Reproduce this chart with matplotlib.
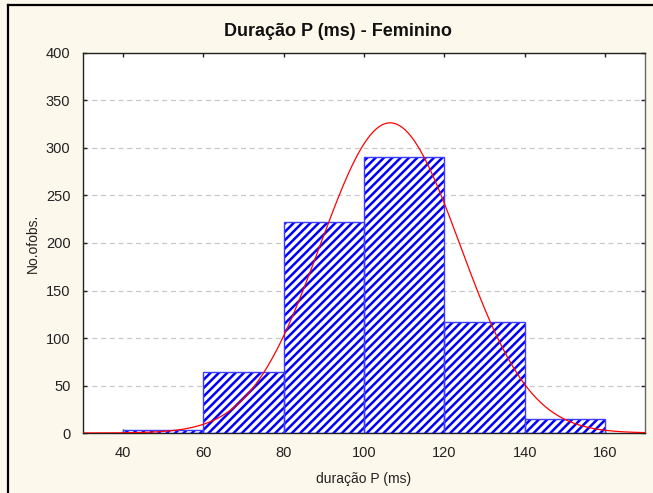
"""
Histogram of P-wave duration (female) with fitted normal curve.
"""

import numpy as np
import matplotlib
matplotlib.use("Agg")
import matplotlib.pyplot as plt
from matplotlib.lines import Line2D

plt.rcParams['font.family'] = ['Liberation Sans', 'DejaVu Sans']
plt.rcParams['hatch.linewidth'] = 1.8

# data
bin_edges = [40, 60, 80, 100, 120, 140, 160]
counts = [3, 64, 222, 291, 117, 15]
fit_mean = 106.5  # normal fit (ms)
fit_sd = 17.4
y_ticks = [0, 50, 100, 150, 200, 250, 300, 350, 400]
x_ticks = [40, 60, 80, 100, 120, 140, 160]

bg = '#fdf8ec'
fig = plt.figure(figsize=(6.53, 4.93), dpi=100, facecolor=bg)
ax = fig.add_axes([0.127, 0.1217, 0.861, 0.7708])
ax.set_facecolor('white')

lefts = bin_edges[:-1]
widths = np.diff(bin_edges)
ax.bar(lefts, counts, width=widths, align='edge', color='white',
       edgecolor='#0000ff', hatch='////', linewidth=0, zorder=2)
ax.bar(lefts, counts, width=widths, align='edge', fill=False,
       edgecolor='#3d3dff', linewidth=1.0, zorder=3)

# fitted normal curve scaled to counts
n_total = sum(counts)
bw = bin_edges[1] - bin_edges[0]
xs = np.linspace(30, 170, 400)
ys = n_total * bw / (fit_sd * np.sqrt(2 * np.pi)) * np.exp(-0.5 * ((xs - fit_mean) / fit_sd) ** 2)
ax.plot(xs, ys, color='#ff0000', linewidth=0.9, zorder=4)

ax.set_xlim(30, 170)
ax.set_ylim(0, 400)
ax.set_xticks(x_ticks)
ax.set_yticks(y_ticks)
ax.tick_params(direction='in', length=3, width=1, top=True, right=True,
               labelsize=10.5, colors='#222222', pad=9)
ax.tick_params(axis='x', pad=9)
for y in y_ticks[1:-1]:
    ax.axhline(y, color='#c8c8c8', linestyle=(0, (4, 3)), linewidth=0.9, zorder=1)
for s in ax.spines.values():
    s.set_linewidth(1.0)
    s.set_color('#222222')
ax.spines['right'].set_color('#666666')

ax.set_xlabel('duração P (ms)', fontsize=10, labelpad=9, color='#222222')
ax.set_ylabel('No.ofobs.', fontsize=10, labelpad=4, color='#222222')
fig.text(0.518, 0.937, 'Duração P (ms) - Feminino', ha='center', va='center',
         fontsize=13, fontweight='bold', color='#111111')

# outer frame (left and top)
fig.add_artist(Line2D([0.0123, 0.0123], [0.0, 0.989], transform=fig.transFigure,
                      color='black', linewidth=1.6))
fig.add_artist(Line2D([0.0123, 1.0], [0.989, 0.989], transform=fig.transFigure,
                      color='black', linewidth=1.6))

fig.savefig('out.png', dpi=100, facecolor=bg)
